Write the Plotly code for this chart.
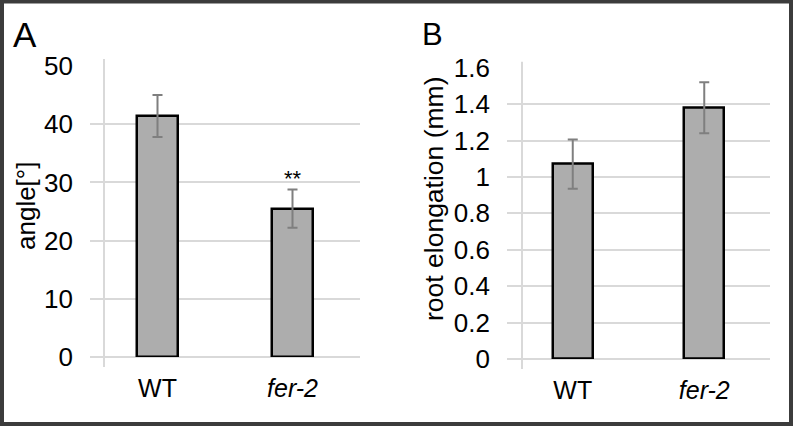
import plotly.graph_objects as go

# ---- data ----
categories = ["WT", "fer-2"]
category_labels = ["WT", "<i>fer-2</i>"]

angle_mean = [41.4, 25.5]
angle_err = [3.6, 3.3]

root_mean = [1.07, 1.38]
root_err = [0.135, 0.14]

angle_ticks = [0, 10, 20, 30, 40, 50]
angle_ticktext = ["0", "10", "20", "30", "40", "50"]
root_ticks = [0, 0.2, 0.4, 0.6, 0.8, 1.0, 1.2, 1.4, 1.6]
root_ticktext = ["0", "0.2", "0.4", "0.6", "0.8", "1", "1.2", "1.4", "1.6"]

significance = ["", "**"]

W, H = 793, 426
FONT = "Liberation Sans, Arial, sans-serif"
BAR_FILL = "#adadad"
GRID = "#d9d9d9"
ERR = "#7f7f7f"

def px_x(p):
    return p / W

def px_y(p):
    return (H - p) / H

fig = go.Figure()

bar_style = dict(
    marker=dict(color=BAR_FILL, line=dict(color="black", width=2.5)),
    width=0.305,
    showlegend=False,
    hoverinfo="skip",
)

fig.add_trace(go.Bar(
    x=categories, y=angle_mean,
    error_y=dict(type="data", array=angle_err, color=ERR, thickness=2, width=5),
    xaxis="x", yaxis="y", **bar_style))

fig.add_trace(go.Bar(
    x=categories, y=root_mean,
    error_y=dict(type="data", array=root_err, color=ERR, thickness=2, width=5),
    xaxis="x2", yaxis="y2", **bar_style))

# significance markers above error bars
for c, m, e, s in zip(categories, angle_mean, angle_err, significance):
    if s:
        fig.add_annotation(x=c, y=m + e, xref="x", yref="y", text=s,
                           showarrow=False, yanchor="bottom", xanchor="center",
                           yshift=-4,
                           font=dict(family=FONT, size=22, color="black"))

axis_common = dict(
    showgrid=True, gridcolor=GRID, gridwidth=2,
    zeroline=True, zerolinecolor=GRID, zerolinewidth=2,
    showline=False, ticks="", automargin=False,
    tickfont=dict(family=FONT, size=26, color="black"),
)

xa_common = dict(
    showgrid=False, zeroline=False, showline=False, ticks="", automargin=False,
    tickmode="array", tickvals=categories, ticktext=category_labels,
    tickfont=dict(family=FONT, size=25, color="black"),
    range=[-0.5, 1.5], ticklabelstandoff=14,
)

fig.update_layout(
    width=W, height=H, autosize=False,
    margin=dict(l=0, r=0, t=0, b=0, pad=0, autoexpand=False),
    paper_bgcolor="white", plot_bgcolor="white",
    bargap=0.0,
    xaxis=dict(domain=[px_x(90), px_x(360)], anchor="y", **xa_common),
    yaxis=dict(domain=[px_y(357), px_y(66)], anchor="x", range=[0, 50],
               tickmode="array", tickvals=angle_ticks, ticktext=angle_ticktext,
               ticklabelstandoff=16, **axis_common),
    xaxis2=dict(domain=[px_x(507), px_x(770)], anchor="y2", **xa_common),
    yaxis2=dict(domain=[px_y(359), px_y(67.7)], anchor="x2", range=[0, 1.6],
                tickmode="array", tickvals=root_ticks, ticktext=root_ticktext,
                ticklabelstandoff=16, **axis_common),
)

# vertical (light gray) value-axis lines
fig.add_shape(type="line", xref="x domain", yref="y domain",
              x0=14 / 270, x1=14 / 270, y0=-10 / 291, y1=1 + 7 / 291,
              line=dict(color=GRID, width=2), layer="below")
fig.add_shape(type="line", xref="x2 domain", yref="y2 domain",
              x0=15 / 263, x1=15 / 263, y0=-10 / 291.3, y1=1 + 6 / 291.3,
              line=dict(color=GRID, width=2), layer="below")

# axis titles
fig.add_annotation(x=px_x(26), y=px_y(206), xref="paper", yref="paper",
                   text="angle[°]", textangle=-90, showarrow=False,
                   xanchor="center", yanchor="middle",
                   font=dict(family=FONT, size=26, color="black"))
fig.add_annotation(x=px_x(434), y=px_y(199), xref="paper", yref="paper",
                   text="root elongation (mm)", textangle=-90, showarrow=False,
                   xanchor="center", yanchor="middle",
                   font=dict(family=FONT, size=26.5, color="black"))

# panel letters
fig.add_annotation(x=px_x(11), y=px_y(34), xref="paper", yref="paper",
                   text="A", showarrow=False, xanchor="left", yanchor="middle",
                   font=dict(family=FONT, size=35, color="black"))
fig.add_annotation(x=px_x(420), y=px_y(35), xref="paper", yref="paper",
                   text="B", showarrow=False, xanchor="left", yanchor="middle",
                   font=dict(family=FONT, size=31, color="black"))

# outer frame
fig.add_shape(type="rect", xref="paper", yref="paper",
              x0=px_x(2), x1=px_x(791), y0=px_y(424), y1=px_y(1.5),
              line=dict(color="#3c3c3c", width=4), fillcolor="rgba(0,0,0,0)")

fig.write_html(
    "out.html",
    config={"displayModeBar": False},
    post_script="document.body.style.margin='0';document.body.style.overflow='hidden';",
)
